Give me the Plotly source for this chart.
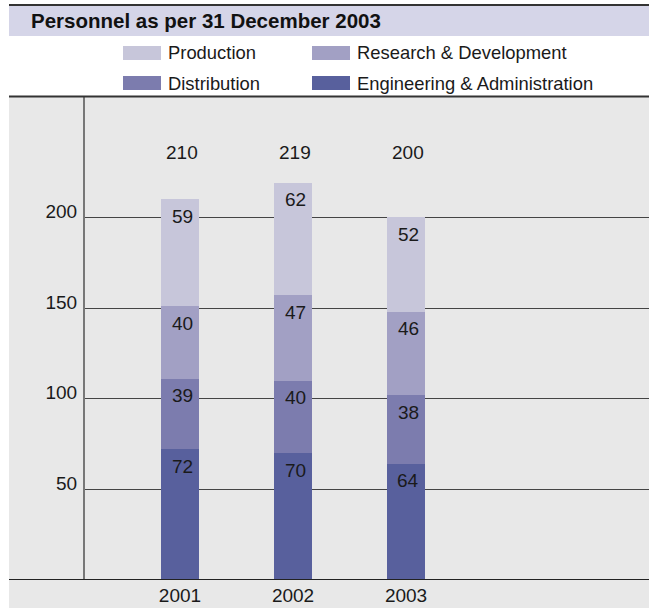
import plotly.graph_objects as go

years = ["2001", "2002", "2003"]
series_names = ["Engineering & Administration", "Distribution", "Research & Development", "Production"]
eng_admin = [72, 70, 64]
distribution = [39, 40, 38]
research_dev = [40, 47, 46]
production = [59, 62, 52]
totals = [210, 219, 200]
y_ticks = [50, 100, 150, 200]

colors = ["#58609d", "#7c7cae", "#a2a0c4", "#c7c6da"]
series_values = [eng_admin, distribution, research_dev, production]

W, H = 649, 608
L, R, T, B = 85, 0, 97, 28
pw = W - L - R
ph = H - T - B


def px_x(p):
    return (p - L) / pw


def px_y(p):
    return (H - B - p) / ph


FONT = "Liberation Sans, Arial, sans-serif"
NUM_SIZE = 19

fig = go.Figure()
for name, vals, col in zip(series_names, series_values, colors):
    fig.add_trace(go.Bar(x=years, y=vals, name=name, marker_color=col,
                         marker_line_width=0, width=0.336, showlegend=False,
                         hoverinfo="skip"))

annotations = []
# segment labels
for si, vals in enumerate(series_values):
    for i in range(len(years)):
        top = sum(series_values[k][i] for k in range(si + 1))
        annotations.append(dict(x=i, y=top, xref="x", yref="y", text=str(vals[i]),
                                showarrow=False, yanchor="middle", xanchor="center",
                                yshift=-17, xshift=2,
                                font=dict(family=FONT, size=NUM_SIZE, color="#1a1a1a")))
# totals
for i in range(len(years)):
    annotations.append(dict(x=i, y=236, xref="x", yref="y", text=str(totals[i]),
                            showarrow=False, yanchor="middle", xanchor="center", xshift=2,
                            font=dict(family=FONT, size=NUM_SIZE, color="#1a1a1a")))

# title
annotations.append(dict(x=px_x(29), y=px_y(20.5), xref="paper", yref="paper",
                        text="<b>Personnel as per 31 December 2003</b>", showarrow=False,
                        xanchor="left", yanchor="middle",
                        font=dict(family=FONT, size=20.5, color="#111")))

shapes = []
# gray background
shapes.append(dict(type="rect", xref="paper", yref="paper", x0=px_x(9), x1=1,
                   y0=px_y(H), y1=px_y(97), fillcolor="#e8e8e8", line_width=0, layer="below"))
# title bar
shapes.append(dict(type="rect", xref="paper", yref="paper", x0=px_x(9), x1=1,
                   y0=px_y(36), y1=px_y(5), fillcolor="#d5d5e8", line_width=0, layer="below"))
shapes.append(dict(type="line", xref="paper", yref="paper", x0=px_x(9), x1=1,
                   y0=px_y(5), y1=px_y(5), line=dict(color="#333", width=2)))
# separator under legend
shapes.append(dict(type="line", xref="paper", yref="paper", x0=px_x(9), x1=1,
                   y0=px_y(96.5), y1=px_y(96.5), line=dict(color="#333", width=2)))
# baseline
shapes.append(dict(type="line", xref="paper", yref="y", x0=px_x(9), x1=1,
                   y0=0, y1=0, line=dict(color="#222", width=2)))

# manual legend: order Production, R&D / Distribution, Eng&Admin
legend_order = [3, 2, 1, 0]
legend_pos = [(123, 53), (312, 53), (123, 83), (312, 83)]
for idx, (lx, ly) in zip(legend_order, legend_pos):
    shapes.append(dict(type="rect", xref="paper", yref="paper",
                       x0=px_x(lx), x1=px_x(lx + 38), y0=px_y(ly + 7), y1=px_y(ly - 7),
                       fillcolor=colors[idx], line_width=0))
    annotations.append(dict(x=px_x(lx + 43), y=px_y(ly), xref="paper", yref="paper",
                            text=series_names[idx], showarrow=False, xanchor="left",
                            yanchor="middle", font=dict(family=FONT, size=18.4, color="#1a1a1a")))

fig.update_layout(
    width=W, height=H,
    margin=dict(l=L, r=R, t=T, b=B, pad=0),
    barmode="stack",
    paper_bgcolor="white",
    plot_bgcolor="rgba(0,0,0,0)",
    annotations=annotations,
    shapes=shapes,
    showlegend=False,
    font=dict(family=FONT, size=18, color="#1a1a1a"),
    xaxis=dict(type="category", range=[-0.8407, 4.150], showgrid=False, zeroline=False,
               showline=False, ticks="", tickfont=dict(size=NUM_SIZE), ticklabelstandoff=2,
               fixedrange=True),
    yaxis=dict(range=[0, 266.4], tickvals=y_ticks, showgrid=True, gridcolor="#444",
               gridwidth=1, zeroline=False, showline=True, linecolor="#777", linewidth=2,
               ticks="", ticklabelposition="outside", ticklabelshift=-6, ticklabelstandoff=2,
               tickfont=dict(size=NUM_SIZE), fixedrange=True),
)

fig.write_html("out.html", config={"displayModeBar": False},
               post_script="document.body.style.margin='0';document.body.style.padding='0';")
